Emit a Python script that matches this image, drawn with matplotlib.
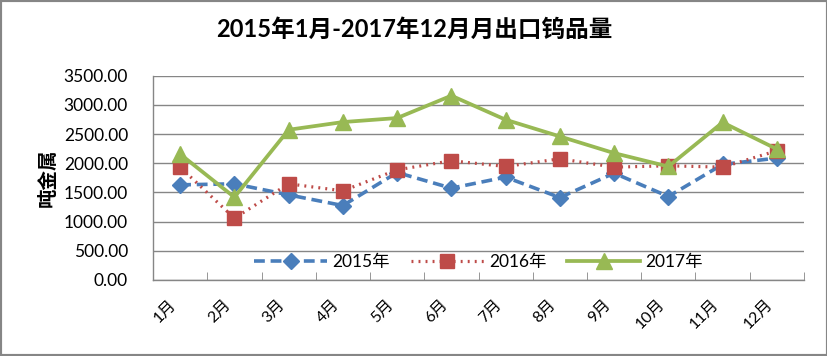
import matplotlib
matplotlib.use('Agg')
import matplotlib.pyplot as plt
import matplotlib.transforms as mtransforms
from matplotlib.patches import Rectangle

plt.rcParams['font.family'] = ['Lato', 'Noto Sans CJK SC', 'DejaVu Sans']

# ─── DATA ────────────────────────────────────────────────────────────────────
months = ['1月', '2月', '3月', '4月', '5月', '6月', '7月', '8月', '9月', '10月', '11月', '12月']
y2015 = [1630, 1647, 1458, 1275, 1841, 1573, 1762, 1412, 1830, 1430, 1980, 2088]
y2016 = [1933, 1058, 1647, 1527, 1887, 2042, 1944, 2076, 1933, 1956, 1933, 2213]
y2017 = [2156, 1418, 2573, 2705, 2774, 3157, 2745, 2459, 2173, 1944, 2699, 2242]
yticks = [0, 500, 1000, 1500, 2000, 2500, 3000, 3500]

fig = plt.figure(figsize=(8.28, 3.56), dpi=100)
ax = fig.add_axes([0.1848, 0.2135, 0.7862, 0.574])

x = list(range(len(months)))
ax.plot(x, y2015, color='#4A7EBB', lw=2.6, ls=(0, (3, 1.6)), marker='D', ms=8.5,
        label='2015年', zorder=3)
ax.plot(x, y2016, color='#BE4B48', lw=2.3, ls=(0, (0.6, 1.6)), marker='s', ms=10,
        label='2016年', zorder=4)
ax.plot(x, y2017, color='#98B954', lw=2.7, marker='^', ms=11,
        label='2017年', zorder=5)

ax.set_xlim(-0.5, 11.5)
ax.set_ylim(0, 3500)
ax.set_yticks(yticks)
ax.set_yticklabels([f'{v:.2f}' for v in yticks], fontsize=12.5)
ax.grid(axis='y', color='#868686', lw=1)
ax.set_axisbelow(True)
for s in ['top', 'right']:
    ax.spines[s].set_visible(False)
for s in ['left', 'bottom']:
    ax.spines[s].set_color('#868686')
    ax.spines[s].set_linewidth(1)
ax.tick_params(axis='y', length=0, pad=18)

# category ticks at boundaries, pointing inwards
ax.set_xticks([i + 0.5 for i in range(12)], minor=True)
ax.set_xticks(x)
ax.set_xticklabels(months, rotation=45, fontsize=11.5, ha='right', va='center',
                   rotation_mode='anchor')
ax.tick_params(axis='x', which='major', length=0, pad=16)
ax.tick_params(axis='x', which='minor', direction='in', length=6, color='#868686')
shift = mtransforms.ScaledTranslation(-6 / 100, 0, fig.dpi_scale_trans)
for lbl in ax.get_xticklabels():
    lbl.set_transform(lbl.get_transform() + shift)

ax.set_ylabel('吨金属', fontsize=14, fontweight='bold', labelpad=4,
              family=['Noto Sans CJK SC'])

leg = ax.legend(loc='lower center', bbox_to_anchor=(0.5, -0.03), ncol=3,
                frameon=False, fontsize=12.5, handlelength=4.2, columnspacing=1.2,
                handletextpad=0.3)

fig.suptitle('2015年1月-2017年12月月出口钨品量', x=0.5, y=0.95,
             fontsize=17, fontweight='bold')

fig.patches.append(Rectangle((0, 0), 1, 1, transform=fig.transFigure,
                             fill=False, edgecolor='#868686', lw=3))

plt.savefig('out.png', dpi=100)
